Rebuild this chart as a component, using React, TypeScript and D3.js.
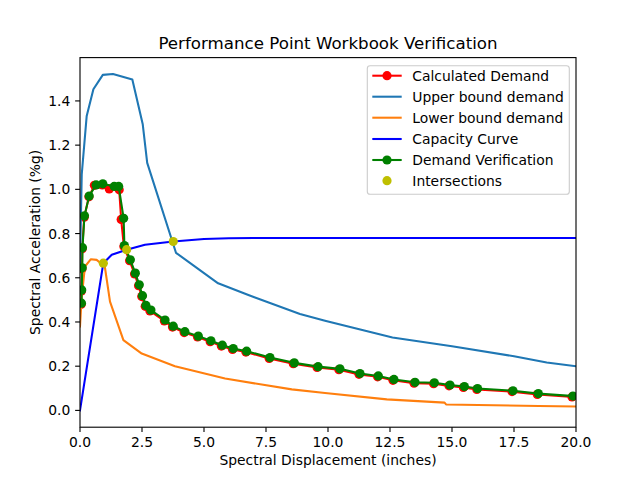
import React from "react";
import * as d3 from "d3";

const calcX = [0.05, 0.06, 0.08, 0.09, 0.17, 0.36, 0.58, 0.9, 1.18, 1.58, 1.66, 1.77, 2.0, 2.2, 2.36, 2.49, 2.63, 2.82, 3.4, 3.73, 4.2, 4.74, 5.25, 5.7, 6.15, 6.69, 7.63, 8.6, 9.56, 10.44, 11.25, 12.0, 12.62, 13.47, 14.26, 14.88, 15.46, 16.0, 17.42, 18.44, 19.84];
const calcY = [0.48, 0.54, 0.64, 0.731, 0.874, 0.966, 1.018, 1.02, 1.002, 0.998, 0.864, 0.741, 0.677, 0.617, 0.564, 0.515, 0.471, 0.45, 0.405, 0.377, 0.352, 0.332, 0.311, 0.291, 0.276, 0.264, 0.235, 0.211, 0.194, 0.184, 0.163, 0.152, 0.136, 0.123, 0.121, 0.111, 0.104, 0.095, 0.085, 0.072, 0.061];

const upperX = [0, 0.07, 0.27, 0.54, 0.92, 1.33, 2.11, 2.53, 2.71, 3.87, 5.57, 6.79, 8.87, 9.88, 12.6, 15.0, 17.5, 18.82, 20];
const upperY = [0.66, 1.067, 1.332, 1.453, 1.518, 1.522, 1.497, 1.294, 1.12, 0.713, 0.575, 0.522, 0.436, 0.406, 0.33, 0.29, 0.245, 0.217, 0.2];

const lowerX = [0, 0.07, 0.2, 0.44, 0.67, 1.0, 1.21, 1.75, 2.49, 3.83, 5.85, 8.54, 9.88, 12.37, 14.7, 14.76, 18.5, 20];
const lowerY = [0.38, 0.515, 0.651, 0.684, 0.681, 0.651, 0.492, 0.318, 0.257, 0.2, 0.144, 0.095, 0.079, 0.05, 0.035, 0.027, 0.02, 0.018];

const capX = [0, 0.94, 1.28, 1.88, 2.62, 3.76, 5.0, 6.0, 7.0, 20];
const capY = [0, 0.666, 0.704, 0.727, 0.749, 0.764, 0.775, 0.779, 0.78, 0.78];

const verX = [0.06, 0.07, 0.09, 0.1, 0.18, 0.37, 0.65, 0.92, 1.38, 1.56, 1.76, 1.79, 2.03, 2.23, 2.39, 2.52, 2.66, 2.86, 3.43, 3.76, 4.23, 4.77, 5.28, 5.74, 6.18, 6.72, 7.66, 8.64, 9.6, 10.48, 11.29, 12.03, 12.66, 13.51, 14.29, 14.92, 15.5, 16.03, 17.46, 18.48, 19.88];
const verY = [0.485, 0.545, 0.645, 0.736, 0.88, 0.97, 1.02, 1.025, 1.013, 1.013, 0.869, 0.746, 0.681, 0.621, 0.568, 0.519, 0.475, 0.454, 0.409, 0.381, 0.356, 0.336, 0.315, 0.295, 0.28, 0.268, 0.239, 0.215, 0.198, 0.188, 0.167, 0.156, 0.14, 0.127, 0.125, 0.115, 0.108, 0.099, 0.089, 0.076, 0.065];

const interX = [0.94, 1.88, 3.76];
const interY = [0.666, 0.727, 0.764];

const xTicks = [0, 2.5, 5, 7.5, 10, 12.5, 15, 17.5, 20];
const yTicks = [0, 0.2, 0.4, 0.6, 0.8, 1.0, 1.2, 1.4];

const legendLabels = ["Calculated Demand", "Upper bound demand", "Lower bound demand", "Capacity Curve", "Demand Verification", "Intersections"];

const L = 80, R = 576, T = 57.6, B = 427.2;
const FONT = "DejaVu Sans, sans-serif";

export default function App() {
  const x = d3.scaleLinear().domain([0, 20]).range([L, R]);
  const y = d3.scaleLinear().domain([-0.076, 1.596]).range([B, T]);
  const line = (xs: number[], ys: number[]) =>
    d3.line<number>().x((_, i) => x(xs[i])).y((_, i) => y(ys[i]))(xs) || "";

  const series = [
    { xs: calcX, ys: calcY, color: "#ff0000", line: true, marker: true },
    { xs: upperX, ys: upperY, color: "#1f77b4", line: true, marker: false },
    { xs: lowerX, ys: lowerY, color: "#ff7f0e", line: true, marker: false },
    { xs: capX, ys: capY, color: "#0000ff", line: true, marker: false },
    { xs: verX, ys: verY, color: "#008000", line: true, marker: true },
    { xs: interX, ys: interY, color: "#bfbf00", line: false, marker: true },
  ];
  const lw = 2.08;
  const mr = 4.6;
  const fs = 13.89;
  const legTop = 65.7;
  const legRowY = [75.7, 96.7, 117.7, 139, 160, 180.7];

  return (
    <svg width={640} height={480} style={{ position: "absolute", left: 0, top: 0, background: "#fff" }} fontFamily={FONT}>
      <rect x={0} y={0} width={640} height={480} fill="#fff" />
      <defs>
        <clipPath id="plotclip">
          <rect x={L} y={T} width={R - L} height={B - T} />
        </clipPath>
      </defs>
      <g clipPath="url(#plotclip)">
        {series.map((s, si) => (
          <g key={si}>
            {s.line && (
              <path d={line(s.xs, s.ys)} fill="none" stroke={s.color} strokeWidth={lw} strokeLinejoin="round" strokeLinecap="square" />
            )}
            {s.marker &&
              s.xs.map((xv, i) => (
                <circle key={i} cx={x(xv)} cy={y(s.ys[i])} r={mr} fill={s.color} />
              ))}
          </g>
        ))}
      </g>
      <rect x={L} y={T} width={R - L} height={B - T} fill="none" stroke="#000" strokeWidth={1.11} />
      {xTicks.map((t) => (
        <g key={"x" + t}>
          <line x1={x(t)} x2={x(t)} y1={B} y2={B + 4.86} stroke="#000" strokeWidth={1.11} />
          <text x={x(t)} y={B + 19.3} fontSize={fs} textAnchor="middle" fill="#000">{t.toFixed(1)}</text>
        </g>
      ))}
      {yTicks.map((t) => (
        <g key={"y" + t}>
          <line x1={L - 4.86} x2={L} y1={y(t)} y2={y(t)} stroke="#000" strokeWidth={1.11} />
          <text x={L - 9.7} y={y(t) + 5} fontSize={fs} textAnchor="end" fill="#000">{t.toFixed(1)}</text>
        </g>
      ))}
      <text x={(L + R) / 2} y={465} fontSize={fs} textAnchor="middle" fill="#000">Spectral Displacement (inches)</text>
      <text transform={`translate(39.5, ${(T + B) / 2}) rotate(-90)`} fontSize={fs} textAnchor="middle" fill="#000">Spectral Acceleration (%g)</text>
      <text x={(L + R) / 2} y={49.3} fontSize={16.67} textAnchor="middle" fill="#000">Performance Point Workbook Verification</text>
      <rect x={367.3} y={legTop} width={202} height={128.6} rx={2.8} fill="#fff" fillOpacity={0.8} stroke="#cccccc" strokeWidth={1.11} />
      {series.map((s, i) => (
        <g key={"leg" + i}>
          {s.line && <line x1={372.3} x2={401.7} y1={legRowY[i]} y2={legRowY[i]} stroke={s.color} strokeWidth={lw} />}
          {s.marker && <circle cx={387} cy={legRowY[i]} r={mr} fill={s.color} />}
          <text x={412.3} y={legRowY[i] + 4.9} fontSize={fs} fill="#000">{legendLabels[i]}</text>
        </g>
      ))}
    </svg>
  );
}
